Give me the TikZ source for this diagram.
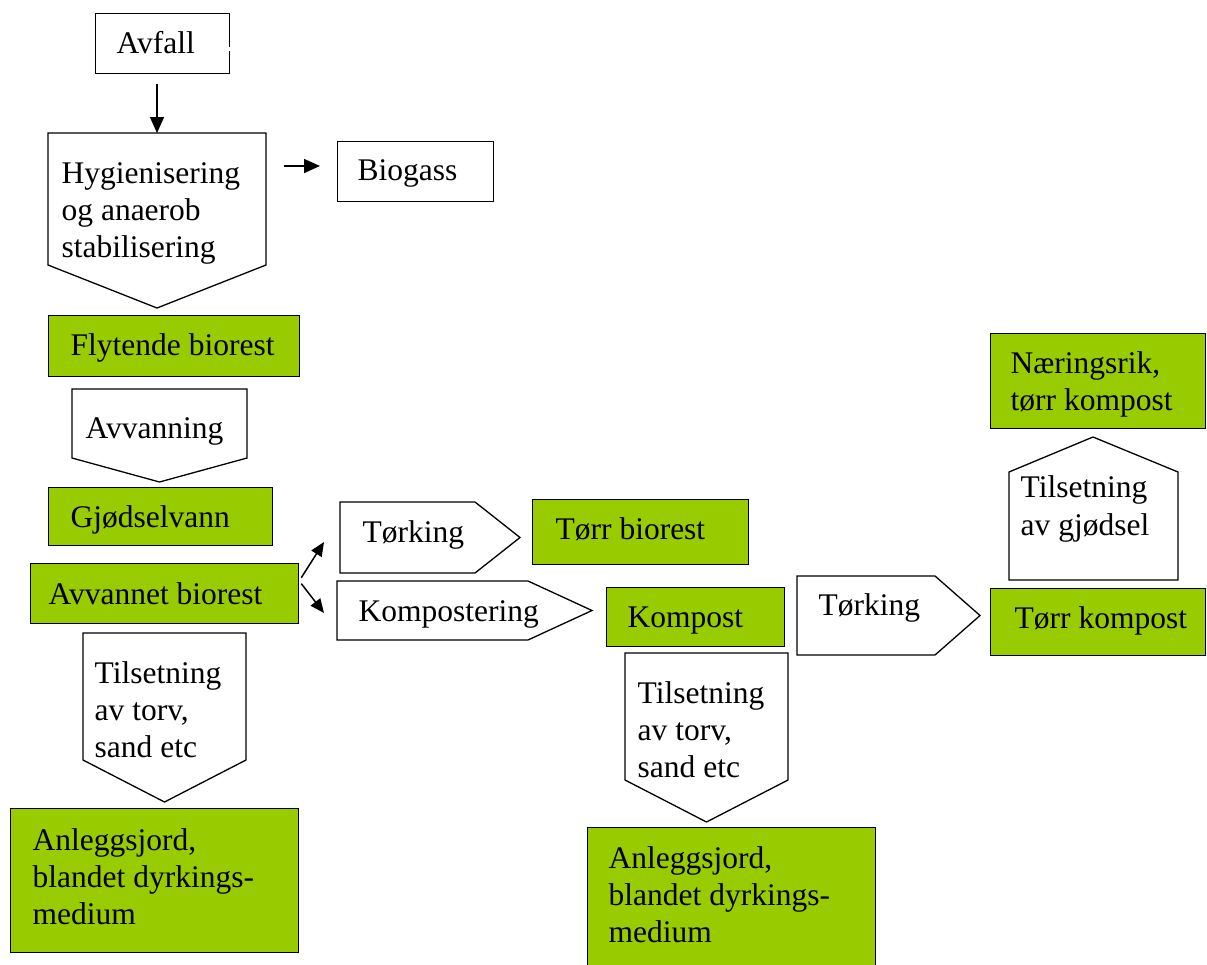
\documentclass[tikz,border=0pt]{standalone}
\usepackage{fontspec}
\setmainfont{Liberation Serif}
\usetikzlibrary{arrows.meta}
\definecolor{lime}{HTML}{99CC00}
\newcommand\dpent[6]{% name, x1, y1, x2, yside, ypoint
  \draw[shapeline] (#2,#3) -- (#4,#3) -- (#4,#5) -- ({(#2+#4)/2},#6) -- (#2,#5) -- cycle;
  \coordinate (#1) at ({(#2+#4)/2},#3);}
\newcommand\rpent[6]{% name, x1, y1, xflat, xpoint, y2
  \draw[shapeline] (#2,#3) -- (#4,#3) -- (#5,{(#3+#6)/2}) -- (#4,#6) -- (#2,#6) -- cycle;
  \coordinate (#1) at (#2,{(#3+#6)/2});}
\begin{document}
\begin{tikzpicture}[x=1pt,y=-1pt, line width=1.3pt,
  shapeline/.style={draw=black, fill=white, line width=1.3pt},
  gbox/.style={draw=black, fill=lime, anchor=north west, inner sep=0pt, line width=1.3pt},
  wbox/.style={draw=black, fill=white, anchor=north west, inner sep=0pt, line width=1.3pt},
  txt/.style={anchor=base west, inner sep=0pt, font=\fontsize{31.5}{37}\selectfont},
  arr/.style={-{Triangle[length=16pt,width=14pt]}, line width=1.5pt},
  sarr/.style={-{Triangle[length=14pt,width=12pt]}, line width=1.5pt}]
\useasboundingbox (0,0) rectangle (1207,964);

% Avfall
\node[wbox, minimum width=134pt, minimum height=60pt] (avfall) at (95,13) {};
\node[txt] (tavfall) at (116,53) {Avfall};
\fill[white] (227,47) rectangle (232,51);

% Hygienisering
\dpent{hygtop}{48}{133}{266}{265}{308}
\node[txt] (thyg1) at (61,183) {Hygienisering};
\node[txt] (thyg2) at (61,220) {og anaerob};
\node[txt] (thyg3) at (61,257) {stabilisering};
\draw[arr, shorten <=10pt] (hygtop |- avfall.south) -- (hygtop);

% Biogass
\node[wbox, minimum width=156pt, minimum height=60pt] (biogass) at (337,141) {};
\node[txt] (tbiogass) at (357,180) {Biogass};
\coordinate (bgstart) at (284,166);
\draw[arr, shorten >=17pt] (bgstart) -- (bgstart -| biogass.west);

% Flytende biorest
\node[gbox, minimum width=251pt, minimum height=61pt] (flyt) at (48,315) {};
\node[txt] (tflyt) at (70,355) {Flytende biorest};

% Avvanning
\dpent{avvtop}{72}{389}{247}{458}{482}
\node[txt] (tavvanning) at (85,438) {Avvanning};

% Gjødselvann
\node[gbox, minimum width=224pt, minimum height=58pt] (gjod) at (48,487) {};
\node[txt] (tgjod) at (70,527) {Gjødselvann};

% Avvannet biorest
\node[gbox, minimum width=268pt, minimum height=60pt] (avv) at (30,563) {};
\node[txt] (tavv) at (48,604) {Avvannet biorest};

% Tørking 1
\rpent{tork1}{340}{502}{475}{520}{573}
\node[txt] (ttork1) at (362,542) {Tørking};
\coordinate (tork1tip) at (324,542);
\draw[sarr] ([shift={(2,-16)}]avv.east) -- (tork1tip);

% Tørr biorest
\node[gbox, minimum width=216pt, minimum height=65pt] (torrbio) at (532,499) {};
\node[txt] (ttorrbio) at (555,539) {Tørr biorest};

% Kompostering
\rpent{komp}{337}{581}{528}{592}{640}
\node[txt] (tkomp) at (358,621) {Kompostering};
\coordinate (komptip) at (324,613);
\draw[sarr] ([shift={(2,-10)}]avv.east) -- (komptip);

% Kompost
\node[gbox, minimum width=178pt, minimum height=59pt] (kompost) at (606,587) {};
\node[txt] (tkompost) at (627,627) {Kompost};

% Tørking 2
\rpent{tork2}{797}{576}{935}{980}{655}
\node[txt] (ttork2) at (818,615) {Tørking};

% Tørr kompost
\node[gbox, minimum width=215pt, minimum height=67pt] (torrkomp) at (990,588) {};
\node[txt] (ttorrkomp) at (1014,628) {Tørr kompost};

% Tilsetning av gjødsel (up)
\draw[shapeline] (1009,580) -- (1009,472) -- (1093,437) -- (1178,472) -- (1178,580) -- cycle;
\coordinate (gjodsel) at (1093,580);
\node[txt] (tgj1) at (1020,497) {Tilsetning};
\node[txt] (tgj2) at (1020,535) {av gjødsel};

% Næringsrik
\node[gbox, minimum width=215pt, minimum height=95pt] (naer) at (990,333) {};
\node[txt] (tnaer1) at (1010,373) {Næringsrik,};
\node[txt] (tnaer2) at (1010,410) {tørr kompost};

% Left Tilsetning
\dpent{tilsL}{83}{633}{246}{760}{802}
\node[txt] (ttl1) at (94,683) {Tilsetning};
\node[txt] (ttl2) at (94,720) {av torv,};
\node[txt] (ttl3) at (94,757) {sand etc};

% Left Anleggsjord
\node[gbox, minimum width=288pt, minimum height=144pt] (anlL) at (10,808) {};
\node[txt] (tal1) at (32,850) {Anleggsjord,};
\node[txt] (tal2) at (32,887) {blandet dyrkings-};
\node[txt] (tal3) at (32,924) {medium};

% Right Tilsetning
\dpent{tilsR}{625}{653}{788}{780}{822}
\node[txt] (ttr1) at (637,703) {Tilsetning};
\node[txt] (ttr2) at (637,740) {av torv,};
\node[txt] (ttr3) at (637,777) {sand etc};

% Right Anleggsjord
\node[gbox, minimum width=288pt, minimum height=150pt] (anlR) at (587,827) {};
\node[txt] (tar1) at (608,868) {Anleggsjord,};
\node[txt] (tar2) at (608,905) {blandet dyrkings-};
\node[txt] (tar3) at (608,942) {medium};
\end{tikzpicture}
\end{document}
